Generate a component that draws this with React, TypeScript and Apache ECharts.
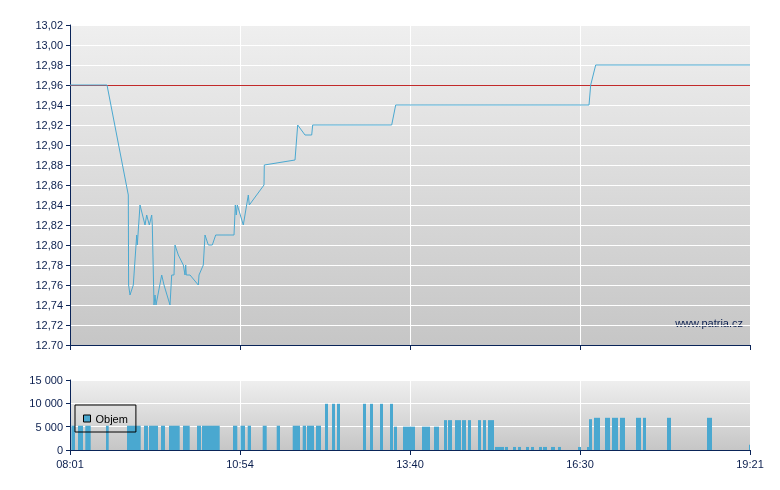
import { useEffect, useRef } from 'react';
import * as echarts from 'echarts';

// tick labels
const timeTickLabels = ['08:01', '10:54', '13:40', '16:30', '19:21'];
const priceTickLabels = ['12.70', '12,72', '12,74', '12,76', '12,78', '12,80', '12,82', '12,84', '12,86', '12,88', '12,90', '12,92', '12,94', '12,96', '12,98', '13,00', '13,02'];
const volumeTickLabels = ['0', '5 000', '10 000', '15 000'];

// previous close
const prevClose = 12.96;

// price: minutes after 08:01, price
const priceTimes = [0, 37, 58.3, 58.6, 60, 63.3, 66.7, 67.3, 70, 75, 76.7, 79.3, 81.7, 82.3, 84, 85, 86, 91.7, 94, 100, 101.7, 104, 105, 108.3, 113.3, 115, 115.7, 116.3, 120, 128.3, 129, 133.3, 135, 138.3, 142.3, 145.7, 164, 165.3, 166.3, 167.3, 173.3, 178.3, 179.3, 194, 194.3, 225, 227.7, 235, 241.7, 242.7, 321.7, 325.7, 519, 520.7, 525.7, 680];
const priceValues = [12.96, 12.96, 12.85, 12.76, 12.75, 12.76, 12.81, 12.80, 12.84, 12.82, 12.83, 12.82, 12.83, 12.82, 12.74, 12.75, 12.74, 12.77, 12.76, 12.74, 12.77, 12.77, 12.80, 12.79, 12.78, 12.77, 12.78, 12.77, 12.77, 12.76, 12.77, 12.78, 12.81, 12.80, 12.80, 12.81, 12.81, 12.84, 12.83, 12.84, 12.82, 12.85, 12.84, 12.86, 12.88, 12.885, 12.92, 12.91, 12.91, 12.92, 12.92, 12.94, 12.94, 12.96, 12.98, 12.98];

// volume: interval start, interval end (minutes after 08:01), amount
const volFrom = [1.5, 8, 15.3, 36, 57, 74, 79, 91, 99, 113, 127, 132, 163, 170.5, 177.7, 192.7, 206.7, 222.7, 232.7, 237, 246, 255, 262, 267, 293, 300, 310, 320, 324, 333, 352, 364, 374, 378, 385, 392, 398, 408, 413, 418, 425, 435, 443, 448, 456, 461, 469, 473, 481, 488, 508, 517, 519, 524, 535, 542, 550, 566, 573, 597, 637, 679];
const volTo = [5, 13, 20.7, 38.7, 70.7, 78, 88, 95, 109.7, 119.7, 131, 149.7, 167.3, 175, 181, 196.7, 210, 230, 236, 244, 251, 258, 265, 270, 296, 303, 313, 323, 327, 345, 360, 369, 377, 382, 391, 396, 401, 411, 416, 424, 434, 438, 446, 451, 459, 464, 472, 477, 485, 491, 511, 519, 522, 530, 540, 548, 555, 571, 576, 601, 642, 680];
const volAmount = [5200, 5200, 5200, 5200, 5200, 5200, 5200, 5200, 5200, 5200, 5200, 5200, 5200, 5200, 5200, 5200, 5200, 5200, 5200, 5200, 5200, 9900, 9900, 9900, 9900, 9900, 9900, 9900, 5000, 5000, 5000, 5000, 6400, 6400, 6400, 6400, 6400, 6400, 6400, 6400, 650, 650, 650, 650, 650, 650, 650, 650, 650, 650, 650, 650, 6600, 6900, 6900, 6900, 6900, 6900, 6900, 6900, 6900, 1100];

const FONT = '"Liberation Sans", Arial, sans-serif';
const NAVY = '#0b1f4f';
const AXIS = '#0a2458';
const BLUE = '#4aa8d0';

export default function App() {
  const ref = useRef<HTMLDivElement>(null);
  useEffect(() => {
    const chart = echarts.init(ref.current!, null, { renderer: 'svg' });
    const bg = () =>
      new echarts.graphic.LinearGradient(0, 0, 0, 1, [
        { offset: 0, color: '#efefef' },
        { offset: 1, color: '#c6c6c6' },
      ]);
    const xAxisBase = {
      type: 'value',
      min: 0,
      max: 680,
      interval: 170,
      axisLine: { show: true, onZero: false, lineStyle: { color: AXIS, width: 1 } },
      axisTick: { show: true, length: 5, lineStyle: { color: AXIS } },
      splitLine: { show: true, lineStyle: { color: '#ffffff', width: 1 } },
    };
    const line: any[] = priceTimes.map((t, i) => [t, priceValues[i]]);
    const vol: any[] = volFrom.map((f, i) => [f, volTo[i], volAmount[i]]);
    chart.setOption({
      animation: false,
      textStyle: { fontFamily: FONT },
      grid: [
        { left: 70, top: 25, width: 680, height: 320, show: true, backgroundColor: bg(), borderWidth: 0 },
        { left: 70, top: 380, width: 680, height: 70, show: true, backgroundColor: bg(), borderWidth: 0 },
      ],
      xAxis: [
        { ...xAxisBase, gridIndex: 0, axisLabel: { show: false } },
        {
          ...xAxisBase,
          gridIndex: 1,
          axisLabel: {
            show: true,
            margin: 8,
            color: NAVY,
            fontSize: 11,
            fontFamily: FONT,
            formatter: (v: number) => timeTickLabels[Math.round(v / 170)],
          },
        },
      ],
      yAxis: [
        {
          type: 'value',
          gridIndex: 0,
          min: 12.7,
          max: 13.02,
          interval: 0.02,
          axisLine: { show: true, lineStyle: { color: AXIS, width: 1 } },
          axisTick: { show: true, length: 4, lineStyle: { color: AXIS } },
          splitLine: { show: true, lineStyle: { color: '#ffffff', width: 1 } },
          axisLabel: {
            margin: 7,
            color: NAVY,
            fontSize: 11,
            fontFamily: FONT,
            formatter: (v: number) => priceTickLabels[Math.round((v - 12.7) / 0.02)],
          },
        },
        {
          type: 'value',
          gridIndex: 1,
          min: 0,
          max: 15000,
          interval: 5000,
          axisLine: { show: true, lineStyle: { color: AXIS, width: 1 } },
          axisTick: { show: true, length: 4, lineStyle: { color: AXIS } },
          splitLine: { show: true, lineStyle: { color: '#ffffff', width: 1 } },
          axisLabel: {
            margin: 7,
            color: NAVY,
            fontSize: 11,
            fontFamily: FONT,
            formatter: (v: number) => volumeTickLabels[Math.round(v / 5000)],
          },
        },
      ],
      legend: {
        data: [{ name: 'Objem', icon: 'rect' }],
        left: 75,
        top: 405,
        padding: [8, 8, 8, 8],
        borderColor: '#000',
        borderWidth: 1,
        itemWidth: 7,
        itemHeight: 7,
        itemStyle: { borderColor: '#000', borderWidth: 1 },
        textStyle: { fontSize: 11, color: '#000', fontFamily: FONT },
      },
      graphic: [
        {
          type: 'text',
          right: 37,
          top: 317,
          style: { text: 'www.patria.cz', fill: NAVY, font: `11px ${FONT}` },
        },
      ],
      series: [
        {
          name: 'prev',
          type: 'custom',
          xAxisIndex: 0,
          yAxisIndex: 0,
          data: [[0, 680, prevClose]],
          encode: { x: [0, 1], y: 2 },
          z: 2,
          renderItem: (params: any, api: any) => {
            const s = api.coord([api.value(0), api.value(2)]);
            const e = api.coord([api.value(1), api.value(2)]);
            const y = Math.round(s[1]) + 0.5;
            return {
              type: 'line',
              shape: { x1: s[0], y1: y, x2: e[0], y2: y },
              style: { stroke: '#c22a2a', lineWidth: 1 },
            };
          },
        },
        {
          name: 'Cena',
          type: 'line',
          xAxisIndex: 0,
          yAxisIndex: 0,
          data: line,
          symbol: 'none',
          lineStyle: { color: BLUE, width: 1 },
          z: 3,
        },
        {
          name: 'Objem',
          type: 'custom',
          xAxisIndex: 1,
          yAxisIndex: 1,
          data: vol,
          encode: { x: [0, 1], y: 2 },
          itemStyle: { color: BLUE },
          renderItem: (params: any, api: any) => {
            const s = api.coord([api.value(0), api.value(2)]);
            const e = api.coord([api.value(1), 0]);
            return {
              type: 'rect',
              shape: { x: s[0], y: s[1], width: Math.max(1, e[0] - s[0]), height: e[1] - s[1] },
              style: { fill: BLUE },
            };
          },
        },
      ],
    });
    return () => chart.dispose();
  }, []);
  return <div ref={ref} style={{ position: 'fixed', left: 0, top: 0, width: 780, height: 490 }} />;
}
